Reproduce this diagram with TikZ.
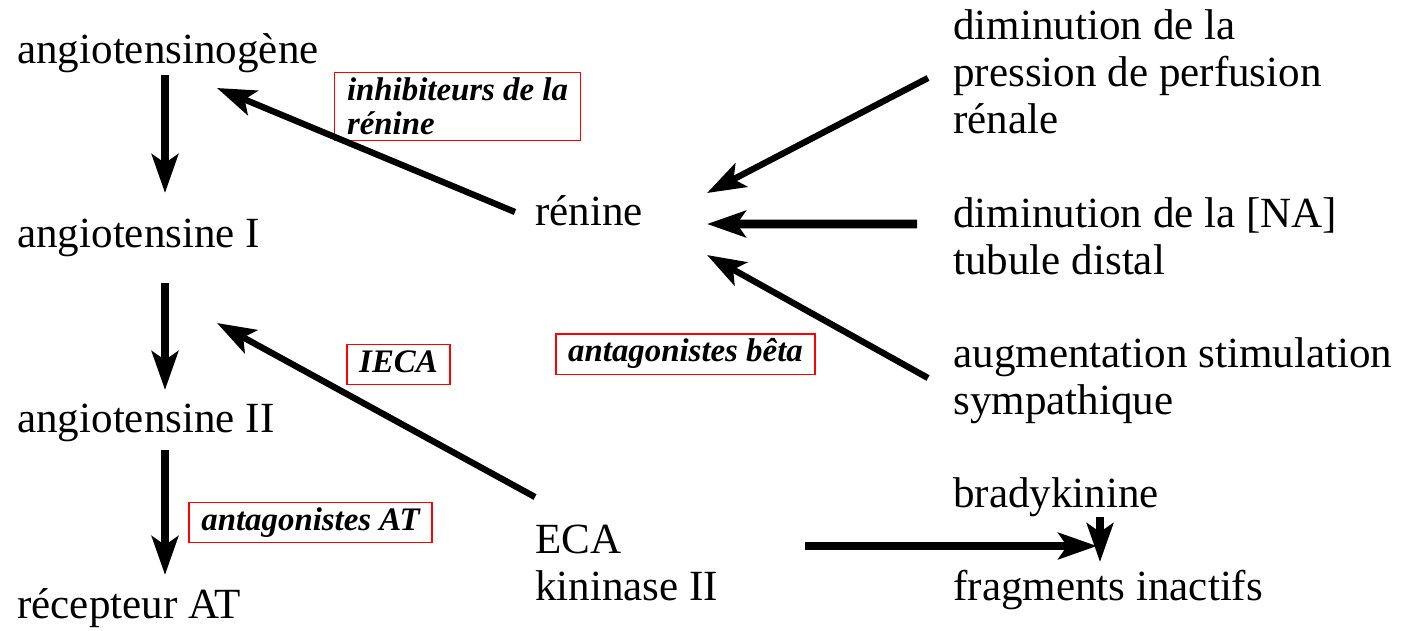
\documentclass[tikz,border=0pt]{standalone}
\usepackage{fontspec}
\setmainfont{Liberation Serif}
\usetikzlibrary{arrows.meta}

\begin{document}
\begin{tikzpicture}[>={Stealth[length=22pt,width=15pt,inset=5pt]},
  lbl/.style={anchor=base west,inner sep=0pt,align=left,font=\fontsize{24.5}{26.5}\selectfont},
  redbox/.style={draw=red,line width=0.8pt,inner xsep=7pt,inner ysep=3pt,align=left,font=\fontsize{18.7}{19.4}\bfseries\itshape\selectfont},
  drug/.style={redbox,text height=13pt,text depth=4pt},
  arr/.style={->,line width=5pt},
  diag/.style={->,line width=3.6pt}]
\useasboundingbox (0,0) rectangle (28.18,-12.6);
% cascade
\node[lbl] (agen)  at (0.34,-1.26)  {angiotensinogène};
\node[lbl] (ang1)  at (0.34,-4.94)  {angiotensine I};
\node[lbl] (ang2)  at (0.34,-8.64)  {angiotensine II};
\node[lbl] (recat) at (0.34,-12.36) {récepteur AT};
\node[lbl] (renine) at (10.70,-4.50)  {rénine};
\node[lbl] (eca)    at (10.70,-12.00) {ECA\\kininase II};
% stimuli
\node[lbl] (pression) at (19.06,-2.66)  {diminution de la\\pression de perfusion\\rénale};
\node[lbl] (na)       at (19.06,-5.48)  {diminution de la [NA]\\tubule distal};
\node[lbl] (symp)     at (19.06,-8.28)  {augmentation stimulation\\sympathique};
\node[lbl] (brady)    at (19.06,-10.14) {bradykinine};
\node[lbl] (frag)     at (19.06,-12.00) {fragments inactifs};
% inhibitors
\node[redbox,minimum width=4.9cm,minimum height=1.3cm] (inhib) at (9.15,-2.13) {inhibiteurs de la\\rénine};
\node[drug] (ieca) at (7.97,-7.29)  {IECA};
\node[drug] (beta) at (13.71,-7.08) {antagonistes bêta};
\node[drug] (antat) at (6.21,-10.45) {antagonistes AT};

\draw[arr] ([shift={(2.96,-0.24)}]agen.base west) -- ([shift={(2.96,1.08)}]ang1.base west);
\draw[arr] ([shift={(2.96,-0.72)}]ang1.base west) -- ([shift={(2.96,0.84)}]ang2.base west);
\draw[arr] ([shift={(2.96,-0.36)}]ang2.base west) -- ([shift={(2.96,0.86)}]recat.base west);
\draw[diag] ([shift={(-0.40,0.26)}]renine.base west) -- ([shift={(4.0,-0.50)}]agen.base west);
\draw[diag] ([shift={(0,2.06)}]eca.base west) -- ([shift={(4.0,-1.52)}]ang1.base west);
\draw[diag] ([shift={(-0.50,1.10)}]pression.base west) -- ([shift={(3.44,0.64)}]renine.base west);
\draw[arr]  ([shift={(-0.72,1.00)}]na.base west) -- ([shift={(3.44,0.02)}]renine.base west);
\draw[diag] ([shift={(-0.50,0.72)}]symp.base west) -- ([shift={(3.44,-0.60)}]renine.base west);
\draw[arr]  ([shift={(5.40,1.08)}]eca.base west) -- ([shift={(2.88,1.08)}]frag.base west);
\draw[arr]  ([shift={(2.94,-0.20)}]brady.base west) -- ([shift={(2.94,0.76)}]frag.base west);
\end{tikzpicture}
\end{document}
